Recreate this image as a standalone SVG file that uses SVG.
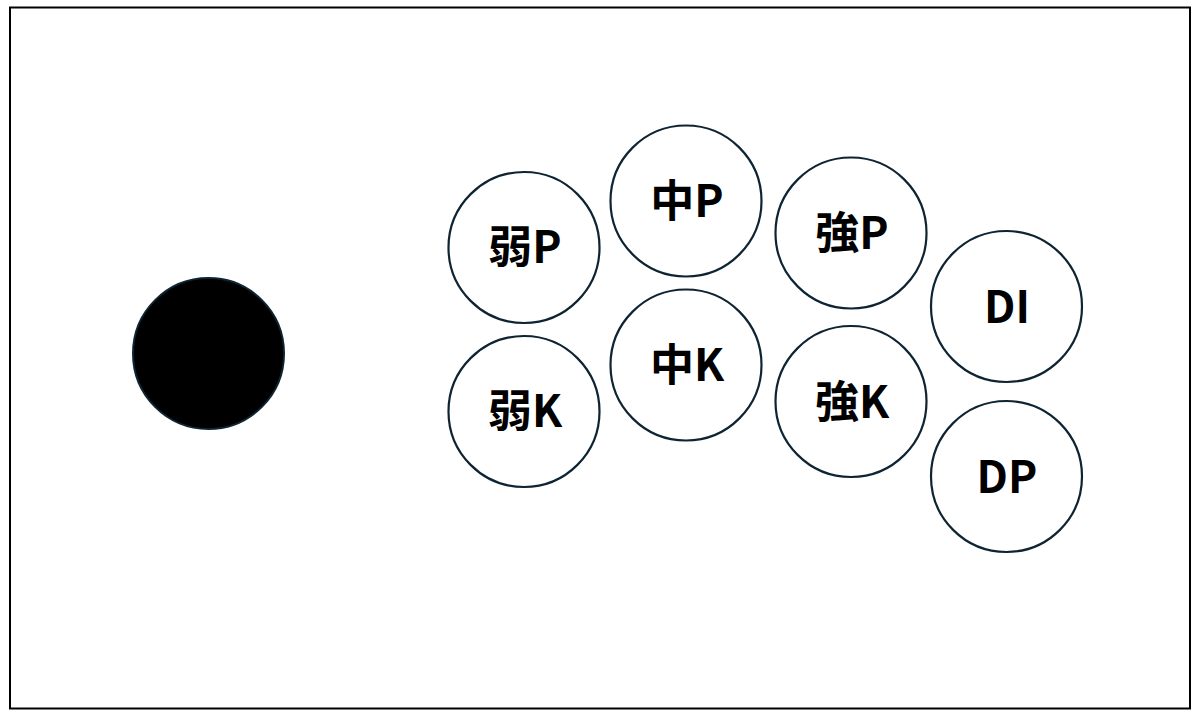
<svg xmlns="http://www.w3.org/2000/svg" width="1200" height="719" viewBox="0 0 1200 719">
<style>
.btn{fill:#ffffff;stroke:#0e2433;stroke-width:2.2}
.lbl{font-family:"Noto Sans CJK JP","Noto Sans",sans-serif;font-weight:bold;font-size:44px;fill:#000000;text-anchor:middle}
</style>
<rect x="0" y="0" width="1200" height="719" fill="#ffffff"/>
<rect id="panel" x="10" y="7.5" width="1180" height="701" fill="#ffffff" stroke="#000000" stroke-width="2"/>
<g id="stick"><circle cx="208.5" cy="353.5" r="75.5" fill="#000000" stroke="#0e2433" stroke-width="2"/></g>
<g id="btn-LP"><circle class="btn" cx="524" cy="247.5" r="75.5"/><text class="lbl" x="525" y="263">弱P</text></g>
<g id="btn-MP"><circle class="btn" cx="686" cy="201" r="75.5"/><text class="lbl" x="687" y="217">中P</text></g>
<g id="btn-HP"><circle class="btn" cx="851" cy="233" r="75.5"/><text class="lbl" x="852" y="249">強P</text></g>
<g id="btn-DI"><circle class="btn" cx="1006.5" cy="306.5" r="75.5"/><text class="lbl" x="1007" y="323">DI</text></g>
<g id="btn-LK"><circle class="btn" cx="524" cy="411.5" r="75.5"/><text class="lbl" x="525" y="427">弱K</text></g>
<g id="btn-MK"><circle class="btn" cx="686" cy="365" r="75.5"/><text class="lbl" x="687" y="381">中K</text></g>
<g id="btn-HK"><circle class="btn" cx="851" cy="401.5" r="75.5"/><text class="lbl" x="852" y="418">強K</text></g>
<g id="btn-DP"><circle class="btn" cx="1006.5" cy="476.5" r="75.5"/><text class="lbl" x="1007" y="493">DP</text></g>
<g id="connectors"/>
</svg>
